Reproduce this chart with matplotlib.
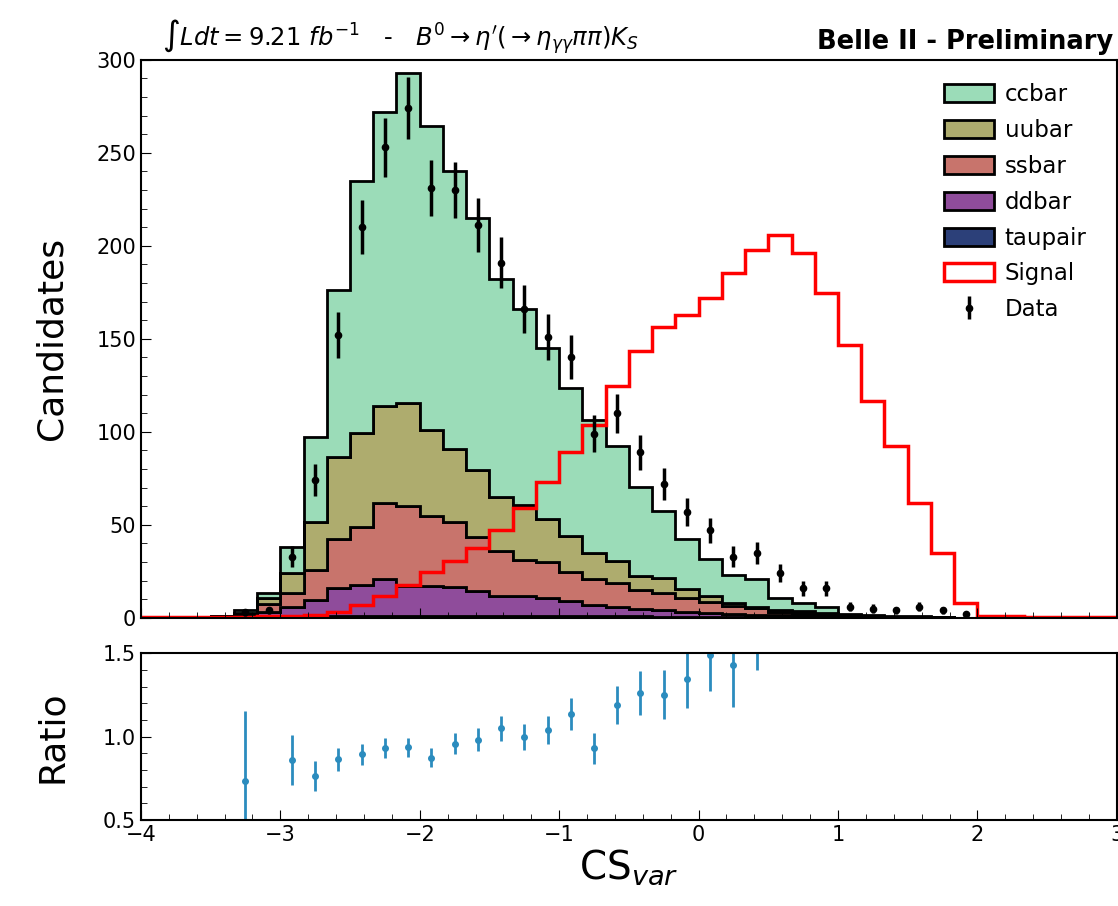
import numpy as np
import matplotlib
matplotlib.use("Agg")
import matplotlib.pyplot as plt
from matplotlib.patches import Patch
from matplotlib.ticker import AutoMinorLocator, MultipleLocator

# 42 bins of CS_var between -4 and 3
edges = np.linspace(-4, 3, 43)
centers = 0.5 * (edges[1:] + edges[:-1])

ccbar = [0, 0, 0, 0.3, 1.5, 3.0, 14.3, 45.2, 89.6, 135.7, 158.0, 177.6, 163.5, 149.3,
         135.4, 116.8, 105.2, 92.0, 79.5, 71.7, 61.7, 48.0, 36.2, 26.9, 20.0, 15.2, 15.1,
         6.3, 4.5, 3.2, 0.6, 0.4, 0.3, 0.25, 0.15, 0.05, 0.02, 0.02, 0.02, 0.02, 0.02, 0.02]
uubar = [0, 0, 0, 0.3, 1.0, 3.0, 10.4, 26.0, 44.1, 50.3, 52.0, 55.2, 46.2, 38.9,
         35.9, 29.0, 29.6, 23.0, 19.1, 14.0, 12.2, 7.6, 8.0, 4.8, 2.7, 1.4, 0.5,
         0.9, 0.8, 0.6, 0.3, 0.2, 0.15, 0.1, 0.1, 0.05, 0.02, 0.02, 0.02, 0.02, 0.02, 0.02]
ssbar = [0, 0, 0, 0.4, 1.0, 4.5, 8.0, 16.1, 26.3, 31.3, 41.0, 43.0, 37.6, 35.3,
         29.0, 24.4, 19.7, 19.4, 15.6, 13.8, 12.5, 10.3, 9.0, 7.2, 6.1, 4.3, 3.4,
         1.9, 1.4, 1.1, 0.4, 0.3, 0.2, 0.15, 0.1, 0.05, 0.02, 0.02, 0.02, 0.02, 0.02, 0.02]
ddbar = [0, 0, 0, 0.2, 0.5, 2.7, 5.1, 8.9, 15.0, 16.7, 19.8, 16.0, 16.0, 15.4,
         13.6, 10.8, 10.5, 9.6, 8.4, 6.1, 5.3, 3.9, 3.6, 2.7, 2.1, 1.6, 1.3,
         1.0, 0.8, 0.7, 0.4, 0.3, 0.2, 0.15, 0.1, 0.03, 0.02, 0.02, 0.02, 0.02, 0.02, 0.02]
taupair = [0, 0, 0, 0, 0.1, 0.3, 0.5, 0.8, 1.0, 1.0, 1.2, 1.2, 1.2, 1.1,
           1.1, 1.0, 1.0, 1.0, 0.9, 0.9, 0.8, 0.8, 0.7, 0.7, 0.6, 0.6, 0.5,
           0.5, 0.5, 0.4, 0.3, 0.2, 0.15, 0.15, 0.05, 0.02, 0.02, 0.02, 0.02, 0.02, 0.02, 0.02]
signal = [0.5, 0.5, 0.5, 0.5, 0.6, 0.8, 1.0, 1.5, 3.4, 7.0, 11.8, 17.7, 24.9, 30.8,
          37.5, 47.3, 59.0, 73.0, 89.4, 103.8, 124.7, 143.5, 156.3, 162.9, 171.9, 185.3, 197.8,
          205.9, 196.1, 174.9, 146.8, 116.7, 92.5, 62.0, 34.8, 8.2, 1.0, 0.8, 0.6, 0.6, 0.5, 0.5]
data = [0, 0, 0, 0, 3, 4, 33, 74, 152, 210, 253, 274, 231, 230,
        211, 191, 166, 151, 140, 99, 110, 89, 72, 57, 47, 33, 35,
        24, 16, 16, 6, 5, 4, 6, 4, 2, 0, 0, 0, 0, 0, 0]

# stacked bottom -> top
stack_names = ["taupair", "ddbar", "ssbar", "uubar", "ccbar"]
stack_vals = [taupair, ddbar, ssbar, uubar, ccbar]
colors = {"ccbar": "#9bdcb8", "uubar": "#aeac6e", "ssbar": "#c8746c",
          "ddbar": "#8f4c9b", "taupair": "#2c4079"}

plt.rcParams["font.family"] = "DejaVu Sans"

fig = plt.figure(figsize=(11.18, 9.06), dpi=100)
ax = fig.add_axes([0.126, 0.318, 0.873, 0.616])
rax = fig.add_axes([0.126, 0.095, 0.873, 0.184])

bottom = np.zeros(len(edges) - 1)
for name, vals in zip(stack_names, stack_vals):
    top = bottom + np.array(vals)
    ax.stairs(top, edges, baseline=bottom, fill=True, facecolor=colors[name],
              edgecolor="black", linewidth=2)
    bottom = top
total = bottom

ax.stairs(signal, edges, color="red", linewidth=2.5)

data = np.array(data, dtype=float)
m = data > 0
dat = ax.errorbar(centers[m], data[m], yerr=np.sqrt(data[m]), fmt="o", color="black",
                  ms=4.5, elinewidth=2.5, capsize=0, zorder=5)

ax.set_xlim(-4, 3)
ax.set_ylim(0, 300)
ax.set_ylabel("Candidates", fontsize=26)
ax.tick_params(axis="x", labelbottom=False)
ax.yaxis.set_major_locator(MultipleLocator(50))

handles = [Patch(facecolor=colors[n], edgecolor="black", linewidth=2) for n in
           ["ccbar", "uubar", "ssbar", "ddbar", "taupair"]]
handles += [Patch(facecolor="white", edgecolor="red", linewidth=2.5), dat]
labels = ["ccbar", "uubar", "ssbar", "ddbar", "taupair", "Signal", "Data"]
ax.legend(handles, labels, loc="upper right", frameon=False, fontsize=16.5,
          handlelength=2.2, handleheight=0.83, labelspacing=0.56,
          handletextpad=0.45, borderaxespad=0.5, bbox_to_anchor=(0.99, 0.995))

ax.text(0.022, 1.006, r"$\int Ldt = 9.21\ fb^{-1}$   -   "
        r"$B^0 \rightarrow \eta'(\rightarrow \eta_{\gamma\gamma}\pi\pi)K_S$",
        transform=ax.transAxes, fontsize=17.5, ha="left", va="bottom")
ax.text(0.996, 1.008, "Belle II - Preliminary", transform=ax.transAxes,
        fontsize=18.5, fontweight="bold", ha="right", va="bottom")

# ratio data / MC
ratio = data[m] / total[m]
rerr = np.sqrt(data[m]) / total[m]
rax.errorbar(centers[m], ratio, yerr=rerr, fmt="o", color="#2b8cbe", ms=4,
             elinewidth=2, capsize=0)
rax.set_xlim(-4, 3)
rax.set_ylim(0.5, 1.5)
rax.yaxis.set_major_locator(MultipleLocator(0.5))
rax.set_ylabel("Ratio", fontsize=26)
rax.set_xlabel(r"CS$_{var}$", fontsize=28, labelpad=2)

for a in (ax, rax):
    a.xaxis.set_minor_locator(AutoMinorLocator(5))
    a.yaxis.set_minor_locator(AutoMinorLocator(5))
    a.tick_params(which="both", direction="in", labelsize=15)
    a.tick_params(which="major", length=7)
    a.tick_params(which="minor", length=4)
    for s in a.spines.values():
        s.set_linewidth(1.5)

ax.yaxis.set_label_coords(-0.074, 0.5)
rax.yaxis.set_label_coords(-0.074, 0.5)

fig.savefig("out.png", dpi=100)
